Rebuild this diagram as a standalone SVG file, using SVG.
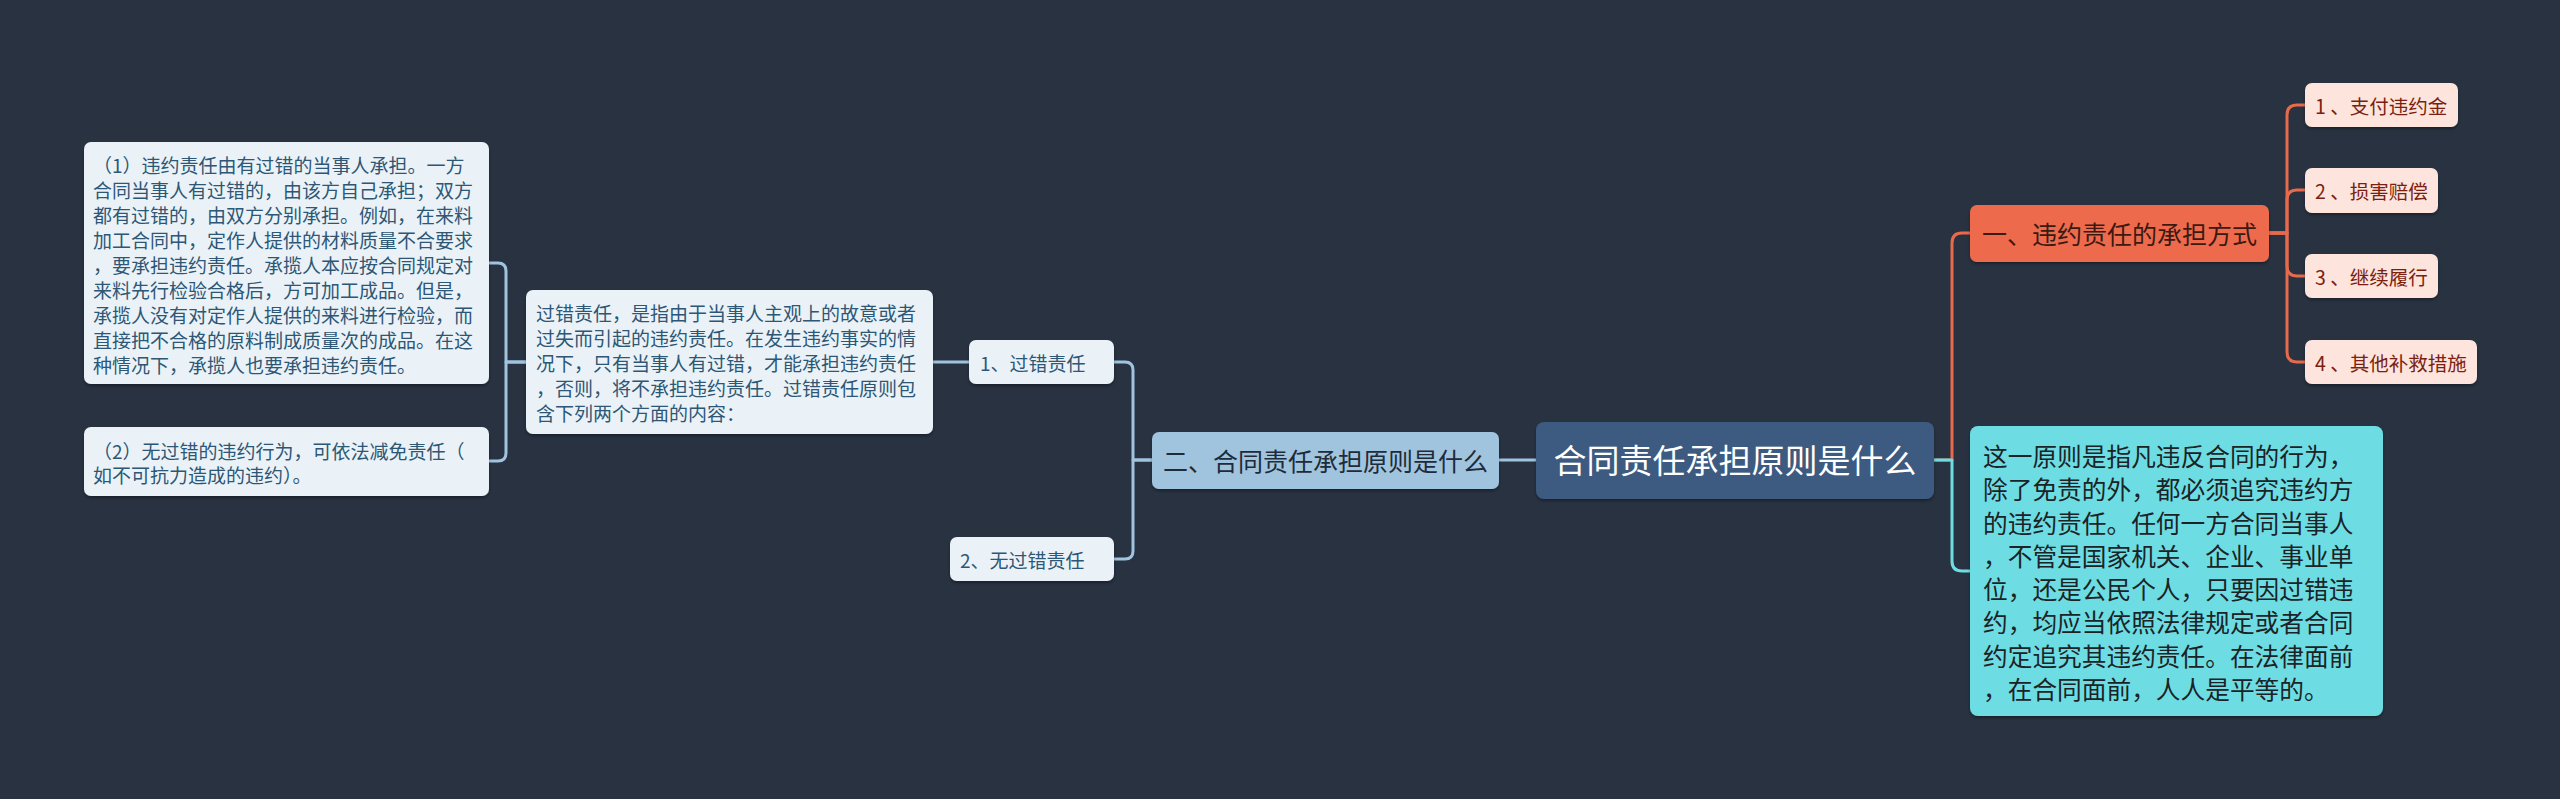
<svg xmlns="http://www.w3.org/2000/svg" width="2560" height="799" viewBox="0 0 2560 799">
<defs>
<filter id="sh" x="-10%" y="-10%" width="120%" height="130%">
<feDropShadow dx="0" dy="2" stdDeviation="1.5" flood-color="#000" flood-opacity="0.35"/>
</filter>
<style>
text{font-family:"Noto Sans CJK SC","Noto Sans",sans-serif;dominant-baseline:central}
.c{fill:none;stroke-width:3;stroke-linecap:round;stroke-linejoin:round}
.cb{stroke:#a0c4df}
.cr{stroke:#e8694c}
.cc{stroke:#6ddde3}
.lt{fill:#eaf2f8;filter:url(#sh)}
.ltt{fill:#2d5775;font-size:19px}
.ch{fill:#fde4dc;filter:url(#sh)}
.cht{fill:#7b1f10;font-size:19.5px}
</style>
</defs>
<rect width="2560" height="799" fill="#283241"/>
<g id="connectors">
<path class="c cb" d="M1536,460 H1499"/>
<path class="c cb" d="M1152,460 H1133 V370 Q1133,362 1125,362 H1114"/>
<path class="c cb" d="M1152,460 H1133 V551 Q1133,559 1125,559 H1114"/>
<path class="c cb" d="M969,362 H933"/>
<path class="c cb" d="M526,362 H506 V271 Q506,263 498,263 H489"/>
<path class="c cb" d="M526,362 H506 V453 Q506,461 498,461 H489"/>
<path class="c cr" d="M1934,460 H1952 V243 Q1952,233 1962,233 H1970"/>
<path class="c cc" d="M1934,460 H1952 V561 Q1952,571 1962,571 H1970"/>
<path class="c cr" d="M2269,233 H2287 V115 Q2287,105 2297,105 H2305"/>
<path class="c cr" d="M2269,233 H2287 V200 Q2287,190 2297,190 H2305"/>
<path class="c cr" d="M2269,233 H2287 V266 Q2287,276 2297,276 H2305"/>
<path class="c cr" d="M2269,233 H2287 V352 Q2287,362 2297,362 H2305"/>
</g>
<g id="root">
<rect x="1536" y="422" width="398" height="77" rx="8" fill="#3e5a80" filter="url(#sh)"/>
<text x="1735" y="459" text-anchor="middle" fill="#ffffff" font-size="33px">合同责任承担原则是什么</text>
</g>
<g id="n-er">
<rect x="1152" y="432" width="347" height="57" rx="7" fill="#a1c4de" filter="url(#sh)"/>
<text x="1325.5" y="460" text-anchor="middle" fill="#1d2b3a" font-size="25px">二、合同责任承担原则是什么</text>
</g>
<g id="n-guocuo">
<rect class="lt" x="969" y="340" width="145" height="44" rx="7"/>
<text class="ltt" x="980" y="362">1、过错责任</text>
</g>
<g id="n-wuguocuo">
<rect class="lt" x="950" y="537" width="164" height="44" rx="7"/>
<text class="ltt" x="960" y="559">2、无过错责任</text>
</g>
<g id="n-guocuo-desc">
<rect class="lt" x="526" y="290" width="407" height="144" rx="7"/>
<text class="ltt" x="536" y="312">过错责任，是指由于当事人主观上的故意或者</text>
<text class="ltt" x="536" y="337">过失而引起的违约责任。在发生违约事实的情</text>
<text class="ltt" x="536" y="362">况下，只有当事人有过错，才能承担违约责任</text>
<text class="ltt" x="536" y="387">，否则，将不承担违约责任。过错责任原则包</text>
<text class="ltt" x="536" y="412">含下列两个方面的内容：</text>
</g>
<g id="n-item1">
<rect class="lt" x="84" y="142" width="405" height="242" rx="7"/>
<text class="ltt" x="93" y="164">（1）违约责任由有过错的当事人承担。一方</text>
<text class="ltt" x="93" y="189">合同当事人有过错的，由该方自己承担；双方</text>
<text class="ltt" x="93" y="214">都有过错的，由双方分别承担。例如，在来料</text>
<text class="ltt" x="93" y="239">加工合同中，定作人提供的材料质量不合要求</text>
<text class="ltt" x="93" y="264">，要承担违约责任。承揽人本应按合同规定对</text>
<text class="ltt" x="93" y="289">来料先行检验合格后，方可加工成品。但是，</text>
<text class="ltt" x="93" y="314">承揽人没有对定作人提供的来料进行检验，而</text>
<text class="ltt" x="93" y="339">直接把不合格的原料制成质量次的成品。在这</text>
<text class="ltt" x="93" y="364">种情况下，承揽人也要承担违约责任。</text>
</g>
<g id="n-item2">
<rect class="lt" x="84" y="427" width="405" height="69" rx="7"/>
<text class="ltt" x="93" y="450">（2）无过错的违约行为，可依法减免责任（</text>
<text class="ltt" x="93" y="474">如不可抗力造成的违约）。</text>
</g>
<g id="n-yi">
<rect x="1970" y="205" width="299" height="57" rx="7" fill="#ee6b4d" filter="url(#sh)"/>
<text x="2119.5" y="233" text-anchor="middle" fill="#3b1a12" font-size="25px">一、违约责任的承担方式</text>
</g>
<g id="n-c1">
<rect class="ch" x="2305" y="83" width="153" height="44" rx="7"/>
<text class="cht" x="2315" y="105">1 、支付违约金</text>
</g>
<g id="n-c2">
<rect class="ch" x="2305" y="168" width="133" height="45" rx="7"/>
<text class="cht" x="2315" y="190">2 、损害赔偿</text>
</g>
<g id="n-c3">
<rect class="ch" x="2305" y="254" width="133" height="44" rx="7"/>
<text class="cht" x="2315" y="276">3 、继续履行</text>
</g>
<g id="n-c4">
<rect class="ch" x="2305" y="340" width="172" height="44" rx="7"/>
<text class="cht" x="2315" y="362">4 、其他补救措施</text>
</g>
<g id="n-principle">
<rect x="1970" y="426" width="413" height="290" rx="8" fill="#6ddde3" filter="url(#sh)"/>
<g fill="#1b2326" font-size="24.7px">
<text x="1983" y="455">这一原则是指凡违反合同的行为，</text>
<text x="1983" y="488">除了免责的外，都必须追究违约方</text>
<text x="1983" y="521.5">的违约责任。任何一方合同当事人</text>
<text x="1983" y="554.5">，不管是国家机关、企业、事业单</text>
<text x="1983" y="588">位，还是公民个人，只要因过错违</text>
<text x="1983" y="621">约，均应当依照法律规定或者合同</text>
<text x="1983" y="654.5">约定追究其违约责任。在法律面前</text>
<text x="1983" y="687.5">，在合同面前，人人是平等的。</text>
</g>
</g>
</svg>
